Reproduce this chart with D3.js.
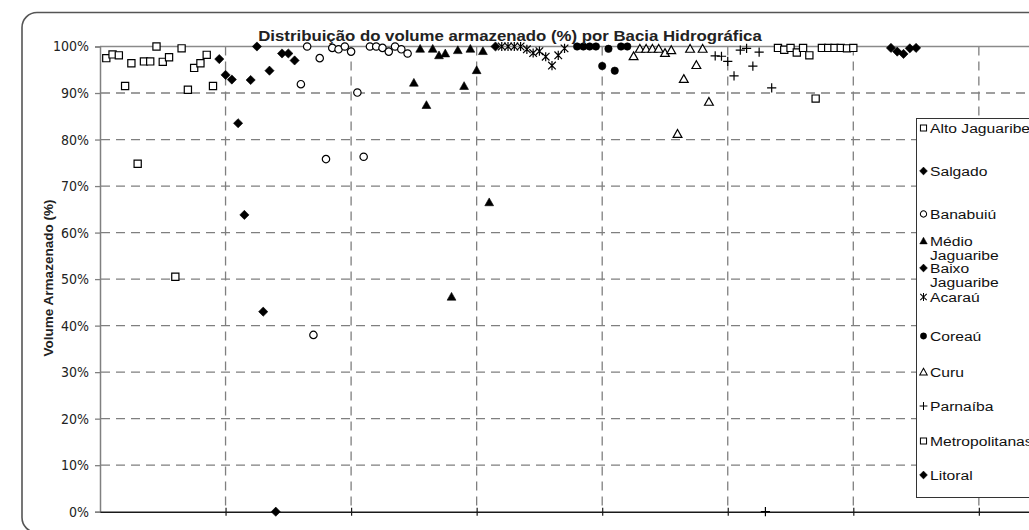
<!DOCTYPE html>
<html>
<head>
<meta charset="utf-8">
<script src="https://cdn.jsdelivr.net/npm/d3@7"></script>
<style>
  body { margin: 0; background: #fff; }
  svg { display: block; }
</style>
</head>
<body>
<svg id="chart" width="1029" height="530"></svg>
<script>
// Reservoir storage (%) by river basin; each reservoir is one point, numbered along x.
const seriesNames = ["Alto Jaguaribe", "Salgado", "Banabuiú", "Médio Jaguaribe", "Baixo Jaguaribe",
                     "Acaraú", "Coreaú", "Curu", "Parnaíba", "Metropolitanas", "Litoral"];
const legendLabels = ["Alto Jaguaribe", "Salgado", "Banabuiú", "Médio\nJaguaribe", "Baixo\nJaguaribe",
                      "Acaraú", "Coreaú", "Curu", "Parnaíba", "Metropolitanas", "Litoral"];
// first reservoir number of each basin
const seriesStart = [1, 19, 32, 50, 63, 64, 76, 85, 98, 108, 126];

const altoJaguaribe = [97.5, 98.3, 98.1, 91.5, 96.4, 74.8, 96.8, 96.8, 100, 96.7, 97.7, 50.5, 99.6, 90.7, 95.4, 96.4, 98.2, 91.5];
const salgado = [97.3, 93.9, 92.9, 83.5, 63.8, 92.8, 100, 43.0, 94.8, 0, 98.5, 98.5, 97.0];
const banabuiu = [91.9, 100, 38.0, 97.5, 75.8, 99.7, 99.4, 100, 98.9, 90.1, 76.3, 100, 100, 99.7, 98.9, 100, 99.4, 98.5];
const medioJaguaribe = [92.2, 99.5, 87.4, 99.5, 98.1, 98.5, 46.2, 99.2, 91.5, 99.5, 94.9, 99.0, 66.5];
const baixoJaguaribe = [100];
const acarau = [100, 100, 100, 100, 99.4, 98.6, 99.0, 97.8, 95.9, 98.1, 99.6];
const coreau = [100, 100, 100, 100, 95.8, 99.5, 94.8, 100, 100];
const curu = [97.9, 99.5, 99.5, 99.5, 99.5, 98.6, 99.2, 81.2, 93.0, 99.5, 96.0, 99.5, 88.1];
const parnaiba = [98.0, 97.9, 96.8, 93.7, 99.2, 99.6, 95.8, 98.8, 0, 91.1];
const metropolitanas = [99.7, 99.3, 99.7, 98.7, 99.7, 98.1, 88.8, 99.7, 99.7, 99.7, 99.7, 99.6, 99.7];
const litoral = [99.7, 98.9, 98.4, 99.6, 99.7];

const seriesValues = [altoJaguaribe, salgado, banabuiu, medioJaguaribe, baixoJaguaribe,
                      acarau, coreau, curu, parnaiba, metropolitanas, litoral];

const yTickValues = [0, 10, 20, 30, 40, 50, 60, 70, 80, 90, 100];
const xGridValues = [20, 40, 60, 80, 100, 120, 140];

const titleText = "Distribuição do volume armazenado (%) por Bacia Hidrográfica";
const yTitleText = "Volume Armazenado (%)";

// marker look per basin
const markerStyle = [
  { shape: "square",   filled: false },
  { shape: "diamond",  filled: true  },
  { shape: "circle",   filled: false },
  { shape: "triangle", filled: true  },
  { shape: "diamond",  filled: true  },
  { shape: "star",     filled: false },
  { shape: "circle",   filled: true  },
  { shape: "triangle", filled: false },
  { shape: "plus",     filled: false },
  { shape: "square",   filled: false },
  { shape: "diamond",  filled: true  }
];

function markerPath(shape) {
  switch (shape) {
    case "square":   return "M-3.6,-3.6H3.6V3.6H-3.6Z";
    case "diamond":  return "M0,-4.6L4.6,0L0,4.6L-4.6,0Z";
    case "circle":   return "M3.7,0A3.7,3.7 0 1,1 -3.7,0A3.7,3.7 0 1,1 3.7,0Z";
    case "triangle": return "M0,-4.4L4.4,3.4H-4.4Z";
    case "star":     return "M-3.8,-3.8L3.8,3.8M3.8,-3.8L-3.8,3.8M0,-4.6V4.6";
    case "plus":     return "M-4.6,0H4.6M0,-4.6V4.6";
  }
}
function markerAttrs(sel, st) {
  const lineOnly = st.shape === "star" || st.shape === "plus";
  sel.attr("d", markerPath(st.shape))
     .attr("fill", lineOnly ? "none" : (st.filled ? "#000" : "#fff"))
     .attr("stroke", "#000")
     .attr("stroke-width", st.filled ? 0.6 : 1.2);
}

const svg = d3.select("#chart");
const W = 1029, H = 530;

// frame around the chart
svg.append("rect")
  .attr("x", 22).attr("y", 12.5).attr("width", 1100).attr("height", 520)
  .attr("rx", 15).attr("ry", 15)
  .attr("fill", "#fff").attr("stroke", "#555").attr("stroke-width", 1.6);

const x = d3.scaleLinear().domain([0, 160]).range([100, 100 + 160 * 6.2775]);
const y = d3.scaleLinear().domain([0, 100]).range([511.7, 46.5]);

const plot = svg.append("g");

// horizontal dashed grid
plot.append("g").selectAll("line")
  .data(yTickValues.filter(v => v > 0 && v < 100))
  .join("line")
  .attr("x1", x(0) + 1).attr("x2", W)
  .attr("y1", d => y(d)).attr("y2", d => y(d))
  .attr("stroke", "#7f7f7f").attr("stroke-width", 1.3)
  .attr("stroke-dasharray", "9,6");

// vertical dashed grid
plot.append("g").selectAll("line")
  .data(xGridValues)
  .join("line")
  .attr("x1", d => x(d)).attr("x2", d => x(d))
  .attr("y1", y(100)).attr("y2", y(0))
  .attr("stroke", "#7f7f7f").attr("stroke-width", 1.3)
  .attr("stroke-dasharray", "9,6");

// top border of plot area
plot.append("line")
  .attr("x1", x(0)).attr("x2", W).attr("y1", y(100)).attr("y2", y(100))
  .attr("stroke", "#8a8a8a").attr("stroke-width", 1.3);

// y axis
const yAxis = d3.axisLeft(y).tickValues(yTickValues).tickFormat(d => d + "%").tickSize(5).tickPadding(6);
const gy = svg.append("g").attr("transform", `translate(${x(0)},0)`).call(yAxis);
gy.select(".domain").attr("stroke", "#808080").attr("stroke-width", 1.5);
gy.selectAll(".tick line").attr("stroke", "#808080").attr("stroke-width", 1.3);
gy.selectAll(".tick text")
  .attr("fill", "#222")
  .style("font-family", "'DejaVu Sans Condensed', 'DejaVu Sans', sans-serif")
  .style("font-size", "14px");

// x axis: crossing ticks only, no labels
const xAxis = d3.axisBottom(x).tickValues(xGridValues).tickFormat("").tickSizeInner(4).tickSizeOuter(0);
const gx = svg.append("g").attr("transform", `translate(0,${y(0)})`).call(xAxis);
gx.select(".domain").attr("stroke", "#1a1a1a").attr("stroke-width", 1.6);
gx.selectAll(".tick line").attr("y1", -4).attr("stroke", "#1a1a1a").attr("stroke-width", 1.2);

// points
const points = [];
seriesValues.forEach((vals, s) => {
  vals.forEach((v, i) => points.push({ s, n: seriesStart[s] + i, v }));
});
const pg = svg.append("g");
seriesValues.forEach((vals, s) => {
  pg.append("g").selectAll("path")
    .data(points.filter(p => p.s === s))
    .join("path")
    .attr("transform", d => `translate(${x(d.n)},${y(d.v)})`)
    .call(markerAttrs, markerStyle[s]);
});

// title (slightly wide lettering)
svg.append("text")
  .attr("transform", "translate(510,40.5) scale(1.12,1)")
  .attr("text-anchor", "middle")
  .style("font-family", "'Liberation Sans', Arial, sans-serif")
  .style("font-weight", "bold").style("font-size", "15px")
  .attr("fill", "#222")
  .text(titleText);

// y axis title
svg.append("text")
  .attr("transform", "translate(53,278) rotate(-90)")
  .attr("text-anchor", "middle")
  .style("font-family", "'Liberation Sans', Arial, sans-serif")
  .style("font-weight", "bold").style("font-size", "13.5px")
  .attr("fill", "#222")
  .text(yTitleText);

// legend
const legendRowY = [128, 171, 214, 241, 268, 297, 336, 372, 406, 441, 475];
const lg = svg.append("g");
lg.append("rect")
  .attr("x", 916.5).attr("y", 118.5).attr("width", 200).attr("height", 379)
  .attr("fill", "#fff").attr("stroke", "#333").attr("stroke-width", 1);
legendLabels.forEach((lab, i) => {
  const row = lg.append("g").attr("transform", `translate(0,${legendRowY[i]})`);
  row.append("path").attr("transform", "translate(923.5,0) scale(0.85)").call(markerAttrs, markerStyle[i]);
  const t = row.append("text")
    .attr("transform", "translate(930,0) scale(1.16,1)")
    .style("font-family", "'Liberation Sans', Arial, sans-serif")
    .style("font-size", "13.5px")
    .attr("fill", "#111");
  lab.split("\n").forEach((ln, k) => {
    t.append("tspan").attr("x", 0).attr("dy", k === 0 ? "0.35em" : "1.03em").text(ln);
  });
});
</script>
</body>
</html>
